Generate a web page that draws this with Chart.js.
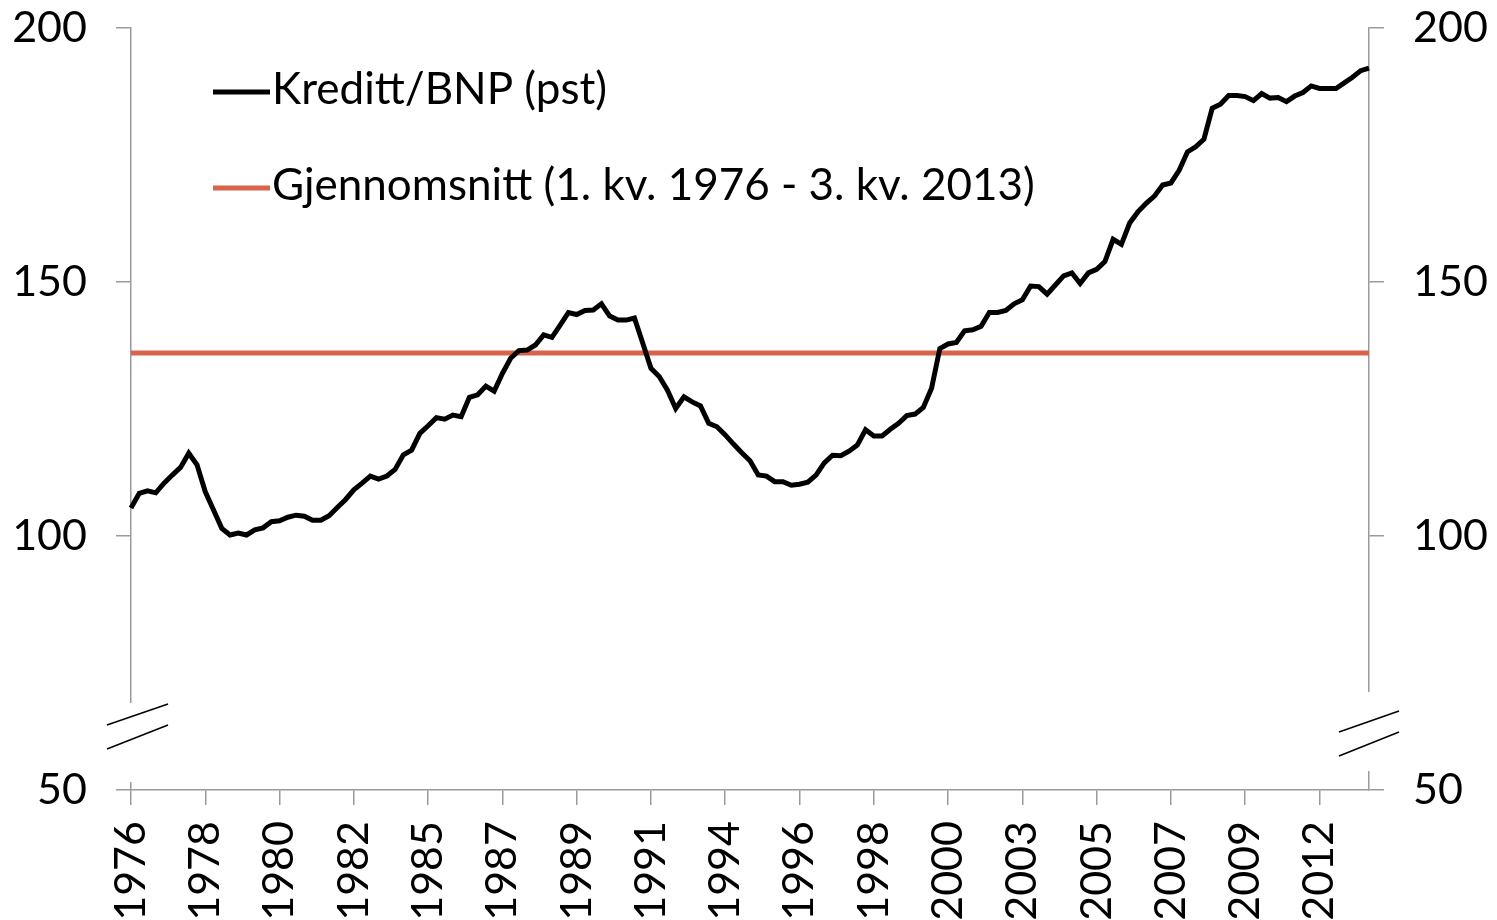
<!DOCTYPE html>
<html>
<head>
<meta charset="utf-8">
<script src="https://cdn.jsdelivr.net/npm/chart.js@4/dist/chart.umd.min.js"></script>
<style>
  html, body { margin: 0; padding: 0; background: #fff; }
  #wrap { width: 1497px; height: 920px; position: relative; }
</style>
</head>
<body>
<div id="wrap"><canvas id="myChart"></canvas></div>
<script>
// Kreditt/BNP, kvartalstall 1. kv. 1976 - 3. kv. 2013
const kvartaler = [];
for (let aar = 1976; aar <= 2013; aar++) {
  for (let k = 1; k <= 4; k++) {
    if (aar === 2013 && k > 3) break;
    kvartaler.push(aar + ' K' + k);
  }
}

const kredittBnp = [
  105.5, 108.4, 108.9, 108.5, 110.4, 112.0, 113.5, 116.3, 114.0, 108.7,
  105.1, 101.5, 100.2, 100.6, 100.2, 101.2, 101.6, 102.8, 103.0, 103.7,
  104.1, 103.9, 103.1, 103.1, 104.0, 105.6, 107.2, 109.1, 110.4, 111.8,
  111.2, 111.8, 113.1, 116.0, 116.9, 120.2, 121.7, 123.3, 123.0, 123.8,
  123.5, 127.3, 127.8, 129.5, 128.5, 132.0, 135.0, 136.5, 136.6, 137.6,
  139.6, 139.1, 141.5, 144.0, 143.6, 144.4, 144.5, 145.7, 143.3, 142.5,
  142.5, 142.9, 138.0, 133.0, 131.4, 128.7, 125.1, 127.4, 126.4, 125.6,
  122.2, 121.5, 119.9, 118.1, 116.4, 114.8, 112.0, 111.8, 110.7, 110.7,
  110.0, 110.2, 110.6, 112.0, 114.4, 115.9, 115.8, 116.7, 117.9, 120.9,
  119.7, 119.7, 121.0, 122.2, 123.7, 124.0, 125.3, 129.1, 136.9, 137.8,
  138.1, 140.4, 140.6, 141.3, 144.0, 144.0, 144.4, 145.7, 146.5, 149.2,
  149.1, 147.6, 149.4, 151.2, 151.8, 149.7, 151.8, 152.5, 154.0, 158.4,
  157.4, 161.6, 163.8, 165.5, 166.9, 169.1, 169.5, 172.0, 175.6, 176.6,
  178.1, 184.2, 185.0, 186.7, 186.7, 186.5, 185.7, 187.1, 186.2, 186.3,
  185.5, 186.6, 187.3, 188.6, 188.1, 188.1, 188.1, 189.2, 190.3, 191.6,
  192.1
];

const gjennomsnitt = 136.0;
const yTicks = [50, 100, 150, 200];
const tickHver = 9; // en årsetikett hvert 9. kvartal

const axisGrey = '#9a9a9a';

// aksebrudd + legend tegnes etter grafen
const bruddOgLegend = {
  id: 'bruddOgLegend',
  afterDraw(chart) {
    const ctx = chart.ctx;
    const a = chart.chartArea;
    ctx.save();

    // hvitt gap i y-aksene
    ctx.fillStyle = '#fff';
    ctx.fillRect(a.left - 3, 703, 6, 79);
    ctx.fillRect(a.right - 3, 692, 6, 79);

    // skråstreker
    ctx.strokeStyle = '#000';
    ctx.lineWidth = 1.5;
    const slash = (x0, y0, x1, y1) => {
      ctx.beginPath(); ctx.moveTo(x0, y0); ctx.lineTo(x1, y1); ctx.stroke();
    };
    slash(a.left - 24, 725, a.left + 37, 704);
    slash(a.left - 24, 749, a.left + 37, 725);
    slash(a.right - 30, 732, a.right + 30, 711);
    slash(a.right - 30, 756, a.right + 30, 732);

    // legend
    ctx.font = '44px Lato';
    ctx.textBaseline = 'middle';
    ctx.textAlign = 'left';
    const rader = [92, 188];
    chart.data.datasets.forEach((ds, i) => {
      const y = rader[i];
      ctx.strokeStyle = ds.borderColor;
      ctx.lineWidth = 5;
      ctx.beginPath(); ctx.moveTo(213, y); ctx.lineTo(270, y); ctx.stroke();
      ctx.fillStyle = '#000';
      ctx.fillText(ds.label, 272, y - 2);
    });
    ctx.restore();
  }
};

document.addEventListener('DOMContentLoaded', function() {
  Chart.defaults.font.family = 'Lato';
  Chart.defaults.font.size = 43;
  Chart.defaults.color = '#000';

  const ctx = document.getElementById('myChart').getContext('2d');

  const yAkse = (pos, bredde) => ({
    type: 'linear',
    position: pos,
    min: 50,
    max: 200,
    afterBuildTicks: (s) => { s.ticks = yTicks.map(v => ({ value: v })); },
    afterFit: (s) => { s.width = bredde; s.paddingTop = 0; s.paddingBottom = 0; },
    grid: { drawOnChartArea: false, drawTicks: true, tickLength: 15, color: axisGrey, lineWidth: 1.5 },
    border: { color: axisGrey, width: 1.5 },
    ticks: { padding: 29, font: { size: 43 } }
  });

  new Chart(ctx, {
    type: 'line',
    data: {
      labels: kvartaler,
      datasets: [{
        label: 'Kreditt/BNP (pst)',
        data: kredittBnp,
        borderColor: '#000',
        borderWidth: 5,
        pointRadius: 0,
        tension: 0,
        yAxisID: 'y'
      }, {
        label: 'Gjennomsnitt (1. kv. 1976 - 3. kv. 2013)',
        data: kvartaler.map(() => gjennomsnitt),
        borderColor: '#D9634A',
        borderWidth: 5,
        pointRadius: 0,
        tension: 0,
        yAxisID: 'y'
      }]
    },
    options: {
      responsive: true,
      maintainAspectRatio: false,
      animation: false,
      layout: { padding: { top: 28, left: 0, right: 0, bottom: 0 } },
      plugins: {
        legend: { display: false },
        tooltip: { enabled: false }
      },
      scales: {
        x: {
          type: 'category',
          offset: false,
          afterFit: (s) => { s.height = 130; },
          grid: {
            offset: false,
            drawOnChartArea: false,
            drawTicks: true,
            tickLength: 15,
            lineWidth: 1.5,
            color: (c) => (c.index % tickHver === 0 ? axisGrey : 'rgba(0,0,0,0)')
          },
          border: { color: axisGrey, width: 1.5 },
          ticks: {
            autoSkip: false,
            minRotation: 90,
            maxRotation: 90,
            padding: 16,
            font: { size: 43 },
            callback: function(value, index) {
              return index % tickHver === 0 ? this.getLabelForValue(value).slice(0, 4) : '';
            }
          }
        },
        y: yAkse('left', 131),
        y2: yAkse('right', 128)
      }
    },
    plugins: [bruddOgLegend]
  });
});
</script>
</body>
</html>
